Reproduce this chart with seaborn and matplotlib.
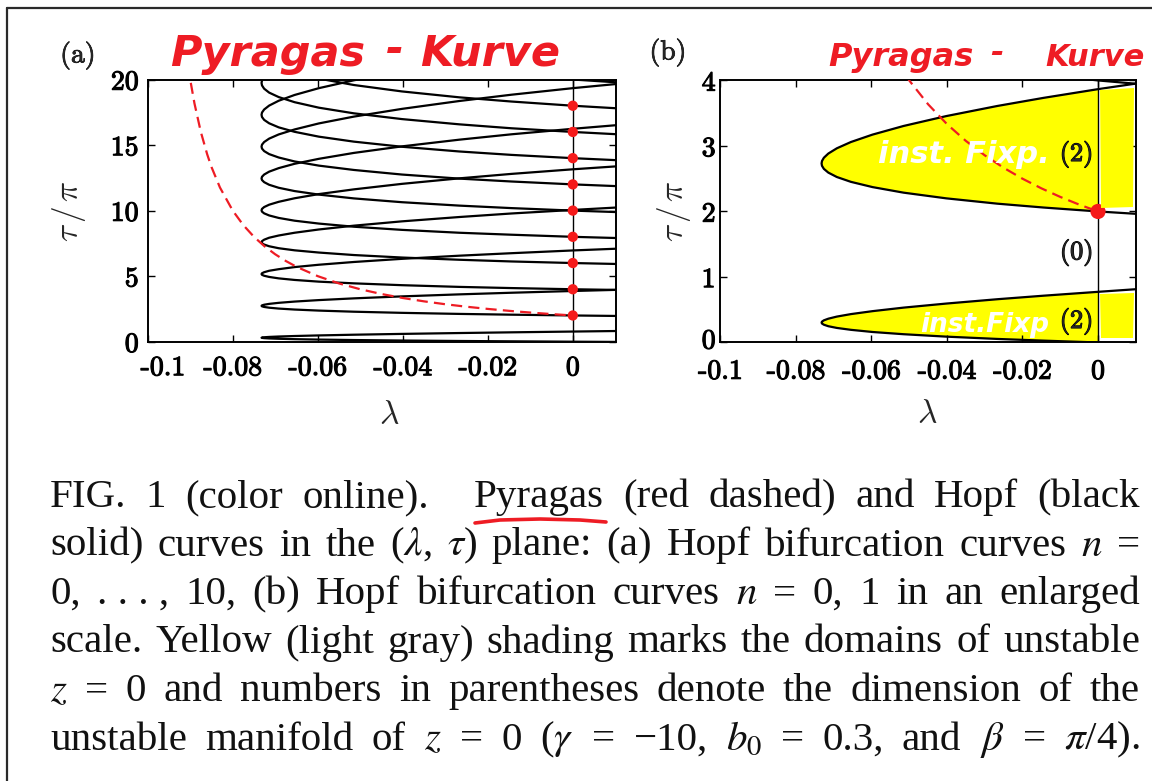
import numpy as np
import pandas as pd
import matplotlib
matplotlib.use("Agg")
import matplotlib.pyplot as plt
import matplotlib.patheffects as pe
import matplotlib.transforms as mtransforms
import seaborn as sns

# ---------------- data ----------------
# common lambda samples along every Hopf curve
LAM = [0.01002, 0.00000, -0.01443, -0.02669, -0.04018, -0.05150, -0.05973, -0.06545,
       -0.06918, -0.07143, -0.07261, -0.07311, -0.07322, -0.07311, -0.07261, -0.07143,
       -0.06918, -0.06545, -0.05973, -0.05150, -0.04018, -0.02669, -0.01443, 0.00000, 0.01002]
# tau/pi along Hopf curve n = 0 ... 10
T0 = [-0.017, 0.000, 0.028, 0.054, 0.089, 0.126, 0.160, 0.193, 0.222, 0.248, 0.271, 0.289, 0.304,
      0.318, 0.338, 0.363, 0.395, 0.433, 0.478, 0.532, 0.594, 0.660, 0.714, 0.773, 0.813]
T1 = [1.964, 2.000, 2.060, 2.119, 2.200, 2.287, 2.372, 2.452, 2.526, 2.593, 2.650, 2.697, 2.733,
      2.770, 2.820, 2.884, 2.964, 3.060, 3.173, 3.305, 3.456, 3.610, 3.734, 3.867, 3.952]
T2 = [3.95, 4.00, 4.09, 4.18, 4.31, 4.45, 4.58, 4.71, 4.83, 4.94, 5.03, 5.10, 5.16, 5.22, 5.30,
      5.41, 5.53, 5.69, 5.87, 6.08, 6.32, 6.56, 6.75, 6.96, 7.09]
T3 = [5.93, 6.00, 6.12, 6.25, 6.42, 6.61, 6.80, 6.97, 7.13, 7.28, 7.41, 7.51, 7.59, 7.67, 7.78,
      7.93, 8.10, 8.31, 8.56, 8.85, 9.18, 9.51, 9.78, 10.05, 10.23]
T4 = [7.91, 8.00, 8.16, 8.31, 8.53, 8.77, 9.01, 9.23, 9.44, 9.63, 9.79, 9.92, 10.02, 10.13, 10.27,
      10.45, 10.67, 10.94, 11.26, 11.62, 12.04, 12.46, 12.80, 13.15, 13.37]
T5 = [9.89, 10.00, 10.19, 10.38, 10.64, 10.93, 11.22, 11.49, 11.74, 11.97, 12.17, 12.33, 12.45,
      12.58, 12.75, 12.97, 13.24, 13.57, 13.95, 14.40, 14.90, 15.41, 15.82, 16.24, 16.51]
T6 = [11.87, 12.00, 12.22, 12.44, 12.75, 13.10, 13.43, 13.75, 14.05, 14.31, 14.54, 14.73, 14.88,
      15.03, 15.23, 15.49, 15.81, 16.19, 16.65, 17.17, 17.76, 18.36, 18.84, 19.34, 19.65]
T7 = [13.85, 14.00, 14.25, 14.51, 14.87, 15.26, 15.64, 16.01, 16.35, 16.66, 16.92, 17.14, 17.31,
      17.48, 17.71, 18.01, 18.38, 18.82, 19.34, 19.94, 20.62, 21.31, 21.86, 22.43, 22.79]
T8 = [15.83, 16.00, 16.28, 16.58, 16.98, 17.42, 17.85, 18.27, 18.66, 19.00, 19.30, 19.55, 19.74,
      19.93, 20.20, 20.53, 20.95, 21.45, 22.04, 22.71, 23.48, 24.26, 24.88, 25.52, 25.93]
T9 = [17.81, 18.00, 18.32, 18.64, 19.09, 19.58, 20.07, 20.53, 20.96, 21.35, 21.68, 21.96, 22.17,
      22.38, 22.68, 23.05, 23.52, 24.07, 24.73, 25.49, 26.35, 27.21, 27.90, 28.62, 29.07]
T10 = [19.79, 20.00, 20.35, 20.71, 21.20, 21.74, 22.28, 22.79, 23.26, 23.69, 24.06, 24.36, 24.60,
       24.84, 25.16, 25.57, 26.09, 26.70, 27.42, 28.26, 29.21, 30.16, 30.92, 31.71, 32.21]
HOPF_TAU = [T0, T1, T2, T3, T4, T5, T6, T7, T8, T9, T10]

# Pyragas curve
PYR_LAM = [-0.0905, -0.09, -0.089, -0.0875, -0.086, -0.085, -0.083, -0.08, -0.0775, -0.075,
           -0.0725, -0.07, -0.0675, -0.065, -0.06, -0.055, -0.05, -0.045, -0.04, -0.035,
           -0.03, -0.025, -0.02, -0.015, -0.01, -0.005, 0.0]
PYR_TAU = [21.05, 20.0, 18.18, 16.0, 14.29, 13.33, 11.76, 10.0, 8.889, 8.0, 7.273, 6.667, 6.154,
           5.714, 5.0, 4.444, 4.0, 3.636, 3.333, 3.077, 2.857, 2.667, 2.5, 2.353, 2.222, 2.105, 2.0]

DOTS_A = [2, 4, 6, 8, 10, 12, 14, 16, 18]
DOTS_B = [2]

X_TICKS = [-0.1, -0.08, -0.06, -0.04, -0.02, 0]
X_TICKLABELS = ["-0.1", "-0.08", "-0.06", "-0.04", "-0.02", "0"]
Y_TICKS_A = [0, 5, 10, 15, 20]
Y_TICKS_B = [0, 1, 2, 3, 4]

REGION_TEXT = ["(2)", "(0)", "(2)"]
REGION_TAU = [2.87, 1.37, 0.32]

CAPTION_LINES = [
    ["FIG.", "1", "(color", "online).", "Pyragas", "(red", "dashed)", "and", "Hopf", "(black"],
    ["solid)", "curves", "in", "the", r"($\lambda$,", r"$\tau$)", "plane:", "(a)", "Hopf",
     "bifurcation", "curves", r"$n$", "="],
    ["0,", ". . . ,", "10,", "(b)", "Hopf", "bifurcation", "curves", r"$n$", "=", "0,", "1",
     "in", "an", "enlarged"],
    ["scale.", "Yellow", "(light", "gray)", "shading", "marks", "the", "domains", "of", "unstable"],
    [r"$z$", "=", "0", "and", "numbers", "in", "parentheses", "denote", "the", "dimension",
     "of", "the"],
    ["unstable", "manifold", "of", r"$z$", "=", "0", r"($\gamma$", "=", "\u221210,", r"$b_0$",
     "=", "0.3,", "and", r"$\beta$", "=", r"$\pi$/4)."],
]

RED = "#ee1c24"
DOT_RED = "#f51a1a"
YELLOW = "#ffff00"

# ---------------- style ----------------
sns.set_theme(style="white")
plt.rcParams.update({
    "font.family": ["DejaVu Sans"],
    "axes.linewidth": 1.4,
    "axes.edgecolor": "black",
    "axes.grid": False,
    "xtick.color": "black",
    "ytick.color": "black",
    "axes.unicode_minus": False,
})

fig = plt.figure(figsize=(11.52, 7.81), dpi=100)
fig.patch.set_facecolor("white")
axa = fig.add_axes([0.1282, 0.5625, 0.4063, 0.3357])
axb = fig.add_axes([0.6254, 0.5615, 0.3605, 0.3355])

heavy = [pe.withStroke(linewidth=0.8, foreground="black")]


def hopf_frame(ns):
    return pd.DataFrame({
        "lam": [v for n in ns for v in LAM],
        "tau": [v for n in ns for v in HOPF_TAU[n]],
        "n": [n for n in ns for _ in LAM],
    })


def style_axes(ax, yticks, xpad, ypad):
    ax.set_facecolor("white")
    ax.tick_params(axis="both", which="major", direction="in", length=5, width=1.0,
                   top=True, right=True, bottom=True, left=True, colors="black")
    ax.tick_params(axis="x", pad=xpad)
    ax.tick_params(axis="y", pad=ypad)
    ax.set_xticks(X_TICKS)
    ax.set_xticklabels(X_TICKLABELS, fontfamily="cmr10", fontsize=20)
    ax.set_yticks(yticks)
    ax.set_yticklabels([str(t) for t in yticks], fontfamily="cmr10", fontsize=20)
    for lab in ax.get_xticklabels() + ax.get_yticklabels():
        lab.set_path_effects(heavy)
    for s in ax.spines.values():
        s.set_visible(True)
        s.set_color("black")
        s.set_linewidth(1.4)


# ---------------- panel (a) ----------------
axa.axvline(0, color="black", lw=1.0, zorder=1.5)
sns.lineplot(data=hopf_frame(range(11)), x="lam", y="tau", units="n", estimator=None,
             sort=False, color="black", linewidth=1.6, ax=axa, legend=False, zorder=2)
sns.lineplot(x=PYR_LAM, y=PYR_TAU, sort=False, estimator=None, color=RED, linewidth=1.6,
             ax=axa, zorder=3)
axa.lines[-1].set_dashes((5, 2.8))
sns.scatterplot(x=[0] * len(DOTS_A), y=DOTS_A, color=DOT_RED, s=55, edgecolor="none",
                ax=axa, zorder=5, legend=False)
axa.set_xlim(-0.1, 0.0101)
axa.set_ylim(0, 20)
style_axes(axa, Y_TICKS_A, 9.5, 6.5)
# the "-0.1" label of panel (a) sits a little to the right of its tick
first = axa.get_xticklabels()[0]
first.set_transform(first.get_transform()
                    + mtransforms.ScaledTranslation(11 / 72, 0, fig.dpi_scale_trans))
axa.set_xlabel(r"$\lambda$", fontsize=24, math_fontfamily="cm")
axa.set_ylabel(r"$\tau\,/\,\pi$", fontsize=24, math_fontfamily="cm")
axa.xaxis.set_label_coords(0.515, -0.215)
axa.yaxis.set_label_coords(-0.128, 0.5)

# ---------------- panel (b) ----------------
for n in (0, 1):
    axb.fill(LAM[1:24], HOPF_TAU[n][1:24], color=YELLOW, lw=0, zorder=0.5)
axb.axvline(0, color="black", lw=1.0, zorder=1.5)
sns.lineplot(data=hopf_frame(range(3)), x="lam", y="tau", units="n", estimator=None,
             sort=False, color="black", linewidth=1.6, ax=axb, legend=False, zorder=2)
sns.lineplot(x=PYR_LAM, y=PYR_TAU, sort=False, estimator=None, color=RED, linewidth=1.6,
             ax=axb, zorder=3)
axb.lines[-1].set_dashes((5, 2.8))
sns.scatterplot(x=[0] * len(DOTS_B), y=DOTS_B, color=DOT_RED, s=120, edgecolor="none",
                ax=axb, zorder=5, legend=False)
for txt, tau in zip(REGION_TEXT, REGION_TAU):
    axb.text(-0.0012, tau, txt, ha="right", va="center", fontfamily="cmr10", fontsize=19,
             zorder=6, path_effects=heavy)
axb.set_xlim(-0.1, 0.01)
axb.set_ylim(0, 4)
style_axes(axb, Y_TICKS_B, 11.5, 3.5)
axb.set_xlabel(r"$\lambda$", fontsize=24, math_fontfamily="cm")
axb.set_ylabel(r"$\tau\,/\,\pi$", fontsize=24, math_fontfamily="cm")
axb.xaxis.set_label_coords(0.499, -0.21)
axb.yaxis.set_label_coords(-0.066, 0.5)
# lift the "0" on the tau axis of (b) a touch, as in the reference
zero_b = axb.get_yticklabels()[0]
zero_b.set_transform(zero_b.get_transform()
                     + mtransforms.ScaledTranslation(0, 3 / 72, fig.dpi_scale_trans))

# ---------------- overlay: page frame, panel labels, notes, caption ----------------
ov = fig.add_axes([0, 0, 1, 1])
ov.set_xlim(0, 1152)
ov.set_ylim(781, 0)
ov.axis("off")
ov.patch.set_visible(False)
ov.set_zorder(10)

ov.plot([7, 1152], [7.5, 7.5], color="#2a2a2a", lw=1.6)
ov.plot([7, 7], [7.5, 781], color="#2a2a2a", lw=1.6)

ov.text(78, 55, "(a)", ha="center", va="center", fontfamily="cmr10", fontsize=20,
        path_effects=[pe.withStroke(linewidth=0.5, foreground="black")])
ov.text(668, 52, "(b)", ha="center", va="center", fontfamily="cmr10", fontsize=20,
        path_effects=[pe.withStroke(linewidth=0.5, foreground="black")])

# hand-drawn highlighter marks right of lambda = 0 in (b)
ov.fill([1100, 1134, 1133, 1101], [90, 88, 207, 208], color=YELLOW, lw=0, zorder=1)
ov.fill([1100, 1134, 1133, 1101], [294, 293, 338, 338], color=YELLOW, lw=0, zorder=1)

hand = dict(color=RED, fontweight="bold", fontstyle="oblique", fontfamily="DejaVu Sans",
            va="baseline", zorder=3)
ov.text(170, 66, "Pyragas", fontsize=31, **hand)
ov.text(386, 62, "-", fontsize=31, **hand)
ov.text(420, 66, "Kurve", fontsize=31, **hand)
ov.text(828, 66, "Pyragas", fontsize=23, **hand)
ov.text(990, 62, "-", fontsize=23, **hand)
ov.text(1045, 66, "Kurve", fontsize=22, **hand)

white = dict(color="white", fontweight="bold", fontstyle="oblique", fontfamily="DejaVu Sans",
             va="baseline", zorder=3)
ov.text(878, 163, "inst. Fixp.", fontsize=22, **white)
ov.text(920, 332, "inst.Fixp", fontsize=19, **white)

# caption, justified between x = 50 and x = 1140
fig.canvas.draw()
renderer = fig.canvas.get_renderer()
baselines = [507, 555.5, 604, 652.5, 701, 749.5]
for tokens, yb in zip(CAPTION_LINES, baselines):
    arts = [ov.text(0, yb, tok, fontfamily="Liberation Serif", math_fontfamily="stix",
                    fontsize=29.5, color="#111111", va="baseline", ha="left", zorder=3)
            for tok in tokens]
    widths = [a.get_window_extent(renderer).width for a in arts]
    weights = [2.3 if tok == "online)." else 1.0 for tok in tokens[:-1]]
    gap = (1090 - sum(widths)) / sum(weights)
    x = 50.0
    for i, a in enumerate(arts):
        a.set_x(x)
        if i < len(weights):
            x += widths[i] + gap * weights[i]

# red hand underline below "Pyragas" in the caption
UL_X = [475, 500, 540, 580, 606]
UL_Y = [523, 520, 519, 520, 522]
ov.plot(UL_X, UL_Y, color=RED, lw=2.6, solid_capstyle="round", zorder=4)

fig.savefig("out.png", dpi=100)
